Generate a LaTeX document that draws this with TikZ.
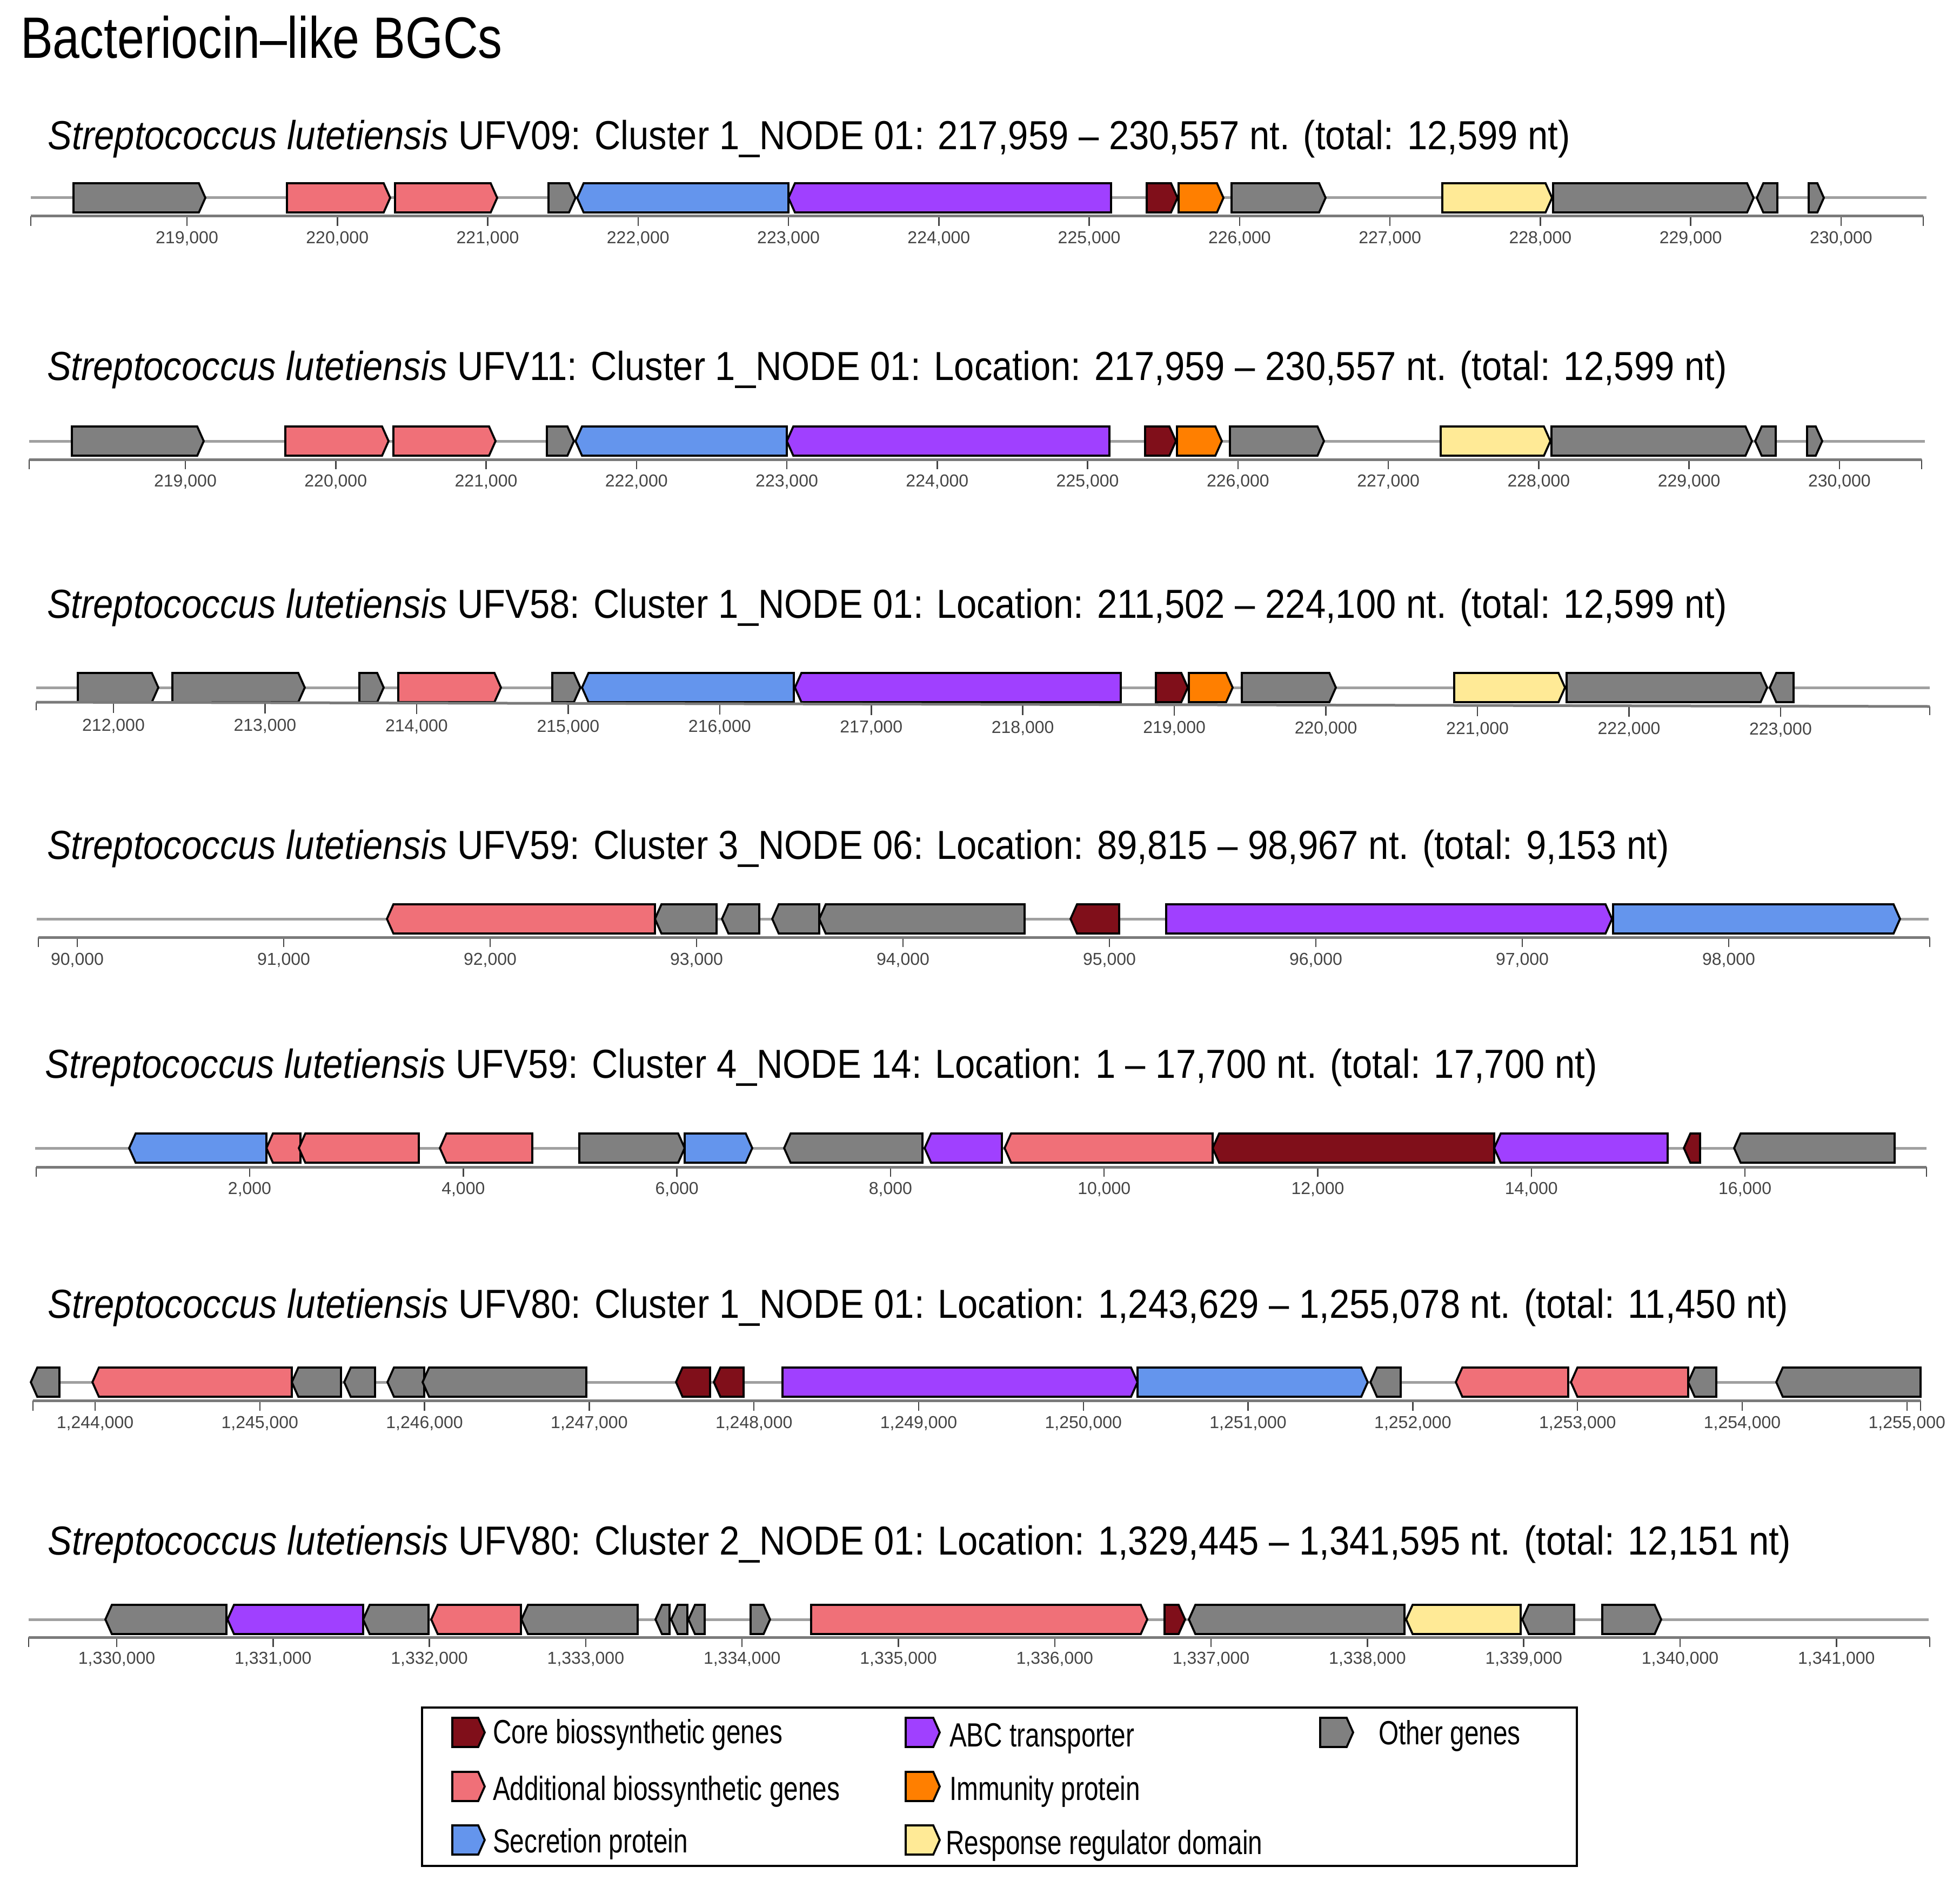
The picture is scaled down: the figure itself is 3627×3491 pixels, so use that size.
\documentclass[tikz,border=0pt]{standalone}
\usepackage{fontspec}
\setmainfont{Liberation Sans}
\newfontfamily\titlefont[FakeStretch=0.83]{Liberation Sans}
\newfontfamily\specfont[FakeStretch=0.893]{Liberation Sans}
\newfontfamily\legfont[FakeStretch=0.77]{Liberation Sans}
\definecolor{cCore}{HTML}{800F1A}
\definecolor{cAdd}{HTML}{F07078}
\definecolor{cSec}{HTML}{6495ED}
\definecolor{cABC}{HTML}{A040FF}
\definecolor{cImm}{HTML}{FF7F00}
\definecolor{cResp}{HTML}{FFEA96}
\definecolor{cOth}{HTML}{808080}
\definecolor{bbgray}{HTML}{A0A0A0}
\definecolor{axgray}{HTML}{7A7A7A}
\definecolor{tkgray}{HTML}{454545}
\tikzset{
 bb/.style={draw=bbgray, line width=1pt},
 ax/.style={draw=axgray, line width=1pt},
 tk/.style={draw=tkgray, line width=0.5pt},
 tl/.style={font=\fontsize{6.4pt}{7pt}\selectfont, text=tkgray, inner sep=0pt, anchor=base},
 spec/.style={font=\specfont\fontsize{15pt}{18pt}\selectfont, inner sep=0pt, anchor=base west},
 leg/.style={font=\legfont\fontsize{12.4pt}{15pt}\selectfont, inner sep=0pt, anchor=base west},
 genebox/.style={draw=black, line width=0.75pt, line join=miter},
}
\newcommand{\gfwd}[4]{\filldraw[genebox, fill=#4] (#1,#3-27) -- (#2-12,#3-27) -- (#2,#3) -- (#2-12,#3+27) -- (#1,#3+27) -- cycle;}
\newcommand{\grev}[4]{\filldraw[genebox, fill=#4] (#2,#3-27) -- (#1+12,#3-27) -- (#1,#3) -- (#1+12,#3+27) -- (#2,#3+27) -- cycle;}
\newcommand{\rowone}[1]{%
 \draw[bb] (57,#1) -- (3565,#1);
 \gfwd{136}{380}{#1}{cOth}
 \gfwd{531}{722}{#1}{cAdd}
 \gfwd{731}{920}{#1}{cAdd}
 \gfwd{1015}{1065}{#1}{cOth}
 \grev{1068}{1459}{#1}{cSec}
 \grev{1459}{2056}{#1}{cABC}
 \gfwd{2122}{2179}{#1}{cCore}
 \gfwd{2181}{2264}{#1}{cImm}
 \gfwd{2279}{2453}{#1}{cOth}
 \gfwd{2669}{2872}{#1}{cResp}
 \gfwd{2874}{3245}{#1}{cOth}
 \grev{3251}{3289}{#1}{cOth}
 \gfwd{3347}{3375}{#1}{cOth}
 \foreach \i in {0,...,11}{
  \pgfmathsetmacro\xx{346+278.26*\i}
  \pgfmathtruncatemacro\lab{219+\i}
  \draw[tk] (\xx,#1+34) -- (\xx,#1+52);
  \node[tl] (lab#1x\i) at (\xx,#1+84) {\lab,000};
 }
 \draw[tk] (57,#1+34) -- (57,#1+52);
 \draw[tk] (3559,#1+34) -- (3559,#1+52);
 \draw[ax] (57,#1+34) -- (3559,#1+34);
}
\begin{document}
\begin{tikzpicture}[x=0.2pt,y=-0.2pt]
\fill[white] (0,0) rectangle (3627,3491);
\useasboundingbox (0,0) rectangle (3627,3491);

\node[anchor=base west, inner sep=0pt, font=\titlefont\fontsize{21.6pt}{26pt}\selectfont] (title) at (37,108) {Bacteriocin–like BGCs};

% ---------- Row 1 ----------
\node[spec] (t1) at (88,277) {\textit{Streptococcus lutetiensis} UFV09: Cluster 1\_NODE 01: 217,959 – 230,557 nt. (total: 12,599 nt)};
\rowone{366}

% ---------- Row 2 ----------
\node[spec] (t2) at (86,703) {\textit{Streptococcus lutetiensis} UFV11: Cluster 1\_NODE 01: Location: 217,959 – 230,557 nt. (total: 12,599 nt)};
\begin{scope}[xshift=-0.6pt]
\rowone{816}
\end{scope}

% ---------- Row 3 ----------
\node[spec] (t3) at (86,1143) {\textit{Streptococcus lutetiensis} UFV58: Cluster 1\_NODE 01: Location: 211,502 – 224,100 nt. (total: 12,599 nt)};
\draw[bb] (67,1272) -- (3571,1272);
\gfwd{144}{293}{1272}{cOth}
\gfwd{319}{564}{1272}{cOth}
\gfwd{665}{710}{1272}{cOth}
\gfwd{737}{927}{1272}{cAdd}
\gfwd{1022}{1074}{1272}{cOth}
\grev{1077}{1469}{1272}{cSec}
\grev{1471}{2074}{1272}{cABC}
\gfwd{2139}{2198}{1272}{cCore}
\gfwd{2200}{2281}{1272}{cImm}
\gfwd{2298}{2472}{1272}{cOth}
\gfwd{2691}{2896}{1272}{cResp}
\gfwd{2899}{3270}{1272}{cOth}
\grev{3275}{3319}{1272}{cOth}
\foreach \i in {0,...,11}{
  \pgfmathsetmacro\xx{210+280.45*\i}
  \pgfmathsetmacro\yy{1299+(\xx-67)/438}
  \pgfmathtruncatemacro\lab{212+\i}
  \draw[tk] (\xx,\yy) -- (\xx,\yy+20);
  \node[tl] (lab3x\i) at (\xx,\yy+53) {\lab,000};
}
\draw[tk] (67,1299) -- (67,1314);
\draw[tk] (3571,1307) -- (3571,1323);
\draw[ax] (67,1299) -- (3571,1307);

% ---------- Row 4 ----------
\node[spec] (t4) at (86,1589) {\textit{Streptococcus lutetiensis} UFV59: Cluster 3\_NODE 06: Location: 89,815 – 98,967 nt. (total: 9,153 nt)};
\draw[bb] (68,1700) -- (3569,1700);
\grev{716}{1212}{1700}{cAdd}
\grev{1212}{1326}{1700}{cOth}
\grev{1336}{1405}{1700}{cOth}
\grev{1429}{1516}{1700}{cOth}
\grev{1516}{1896}{1700}{cOth}
\grev{1981}{2071}{1700}{cCore}
\gfwd{2158}{2983}{1700}{cABC}
\gfwd{2985}{3516}{1700}{cSec}
\foreach \i in {0,...,8}{
  \pgfmathsetmacro\xx{143+382*\i}
  \pgfmathtruncatemacro\lab{90+\i}
  \draw[tk] (\xx,1734) -- (\xx,1752);
  \node[tl] (lab4x\i) at (\xx,1785) {\lab,000};
}
\draw[tk] (71,1734) -- (71,1752);
\draw[tk] (3571,1734) -- (3571,1752);
\draw[ax] (71,1734) -- (3571,1734);

% ---------- Row 5 ----------
\node[spec] (t5) at (83,1994) {\textit{Streptococcus lutetiensis} UFV59: Cluster 4\_NODE 14: Location: 1 – 17,700 nt. (total: 17,700 nt)};
\draw[bb] (65,2124) -- (3565,2124);
\grev{239}{493}{2124}{cSec}
\grev{493}{556}{2124}{cAdd}
\grev{553}{775}{2124}{cAdd}
\grev{814}{985}{2124}{cAdd}
\gfwd{1072}{1267}{2124}{cOth}
\gfwd{1267}{1392}{2124}{cSec}
\grev{1451}{1707}{2124}{cOth}
\grev{1711}{1854}{2124}{cABC}
\grev{1859}{2244}{2124}{cAdd}
\grev{2244}{2765}{2124}{cCore}
\grev{2765}{3086}{2124}{cABC}
\grev{3116}{3146}{2124}{cCore}
\grev{3209}{3506}{2124}{cOth}
\foreach \i in {0,...,7}{
  \pgfmathsetmacro\xx{462+395.3*\i}
  \pgfmathtruncatemacro\lab{2*(\i+1)}
  \draw[tk] (\xx,2159) -- (\xx,2177);
  \node[tl] (lab5x\i) at (\xx,2209) {\lab,000};
}
\draw[tk] (67,2159) -- (67,2177);
\draw[tk] (3565,2159) -- (3565,2177);
\draw[ax] (67,2159) -- (3565,2159);

% ---------- Row 6 ----------
\node[spec] (t6) at (88,2438) {\textit{Streptococcus lutetiensis} UFV80: Cluster 1\_NODE 01: Location: 1,243,629 – 1,255,078 nt. (total: 11,450 nt)};
\draw[bb] (57,2557) -- (3554,2557);
\grev{57}{110}{2557}{cOth}
\grev{171}{540}{2557}{cAdd}
\grev{540}{631}{2557}{cOth}
\grev{637}{694}{2557}{cOth}
\grev{717}{785}{2557}{cOth}
\grev{782}{1085}{2557}{cOth}
\grev{1251}{1314}{2557}{cCore}
\grev{1321}{1376}{2557}{cCore}
\gfwd{1448}{2105}{2557}{cABC}
\gfwd{2105}{2531}{2557}{cSec}
\grev{2536}{2592}{2557}{cOth}
\grev{2694}{2902}{2557}{cAdd}
\grev{2907}{3124}{2557}{cAdd}
\grev{3124}{3176}{2557}{cOth}
\grev{3287}{3554}{2557}{cOth}
\foreach \i in {0,...,11}{
  \pgfmathsetmacro\xx{176+304.8*\i}
  \pgfmathtruncatemacro\lab{244+\i}
  \draw[tk] (\xx,2591) -- (\xx,2610);
  \node[tl] (lab6x\i) at (\xx,2642) {1,\lab,000};
}
\draw[tk] (61,2591) -- (61,2610);
\draw[tk] (3554,2591) -- (3554,2610);
\draw[ax] (61,2591) -- (3554,2591);

% ---------- Row 7 ----------
\node[spec] (t7) at (88,2876) {\textit{Streptococcus lutetiensis} UFV80: Cluster 2\_NODE 01: Location: 1,329,445 – 1,341,595 nt. (total: 12,151 nt)};
\draw[bb] (53,2996) -- (3569,2996);
\grev{195}{419}{2996}{cOth}
\grev{421}{672}{2996}{cABC}
\grev{672}{793}{2996}{cOth}
\grev{798}{964}{2996}{cAdd}
\grev{965}{1180}{2996}{cOth}
\grev{1213}{1239}{2996}{cOth}
\grev{1242}{1272}{2996}{cOth}
\grev{1274}{1304}{2996}{cOth}
\gfwd{1389}{1425}{2996}{cOth}
\gfwd{1501}{2123}{2996}{cAdd}
\gfwd{2155}{2193}{2996}{cCore}
\grev{2200}{2599}{2996}{cOth}
\grev{2602}{2814}{2996}{cResp}
\grev{2817}{2913}{2996}{cOth}
\gfwd{2965}{3074}{2996}{cOth}
\foreach \i in {0,...,11}{
  \pgfmathsetmacro\xx{216+289.3*\i}
  \pgfmathtruncatemacro\lab{330+\i}
  \draw[tk] (\xx,3029) -- (\xx,3047);
  \node[tl] (lab7x\i) at (\xx,3078) {1,\lab,000};
}
\draw[tk] (53,3029) -- (53,3047);
\draw[tk] (3571,3029) -- (3571,3047);
\draw[ax] (53,3029) -- (3571,3029);

% ---------- Legend ----------
\draw[line width=0.75pt] (781,3159) rectangle (2918,3452);
\gfwd{837}{897}{3205}{cCore}
\node[leg] (l1) at (911,3225) {Core biossynthetic genes};
\gfwd{837}{897}{3305}{cAdd}
\node[leg] (l2) at (911,3330) {Additional biossynthetic genes};
\gfwd{837}{897}{3404}{cSec}
\node[leg] (l3) at (911,3427) {Secretion protein};
\gfwd{1676}{1739}{3205}{cABC}
\node[leg] (l4) at (1756,3231) {ABC transporter};
\gfwd{1676}{1739}{3305}{cImm}
\node[leg] (l5) at (1756,3330) {Immunity protein};
\gfwd{1676}{1739}{3404}{cResp}
\node[leg] (l6) at (1749,3430) {Response regulator domain};
\gfwd{2443}{2504}{3205}{cOth}
\node[leg] (l7) at (2550,3227) {Other genes};
\end{tikzpicture}
\end{document}
